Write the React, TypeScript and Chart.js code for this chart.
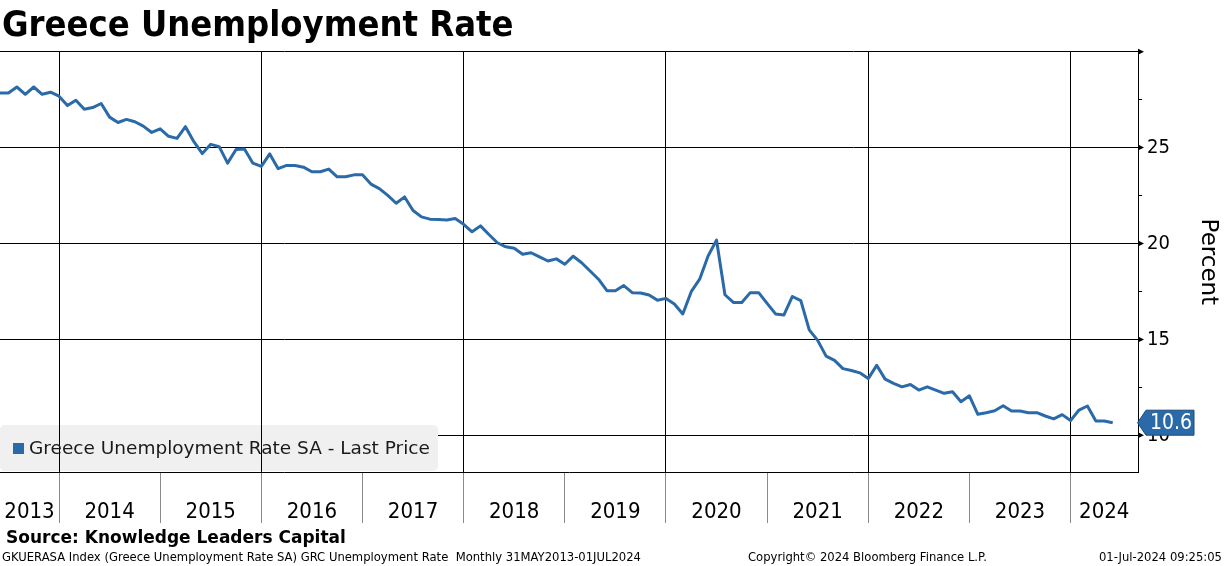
import React, { useEffect, useRef } from "react";
import { Chart, registerables } from "chart.js";

Chart.register(...registerables);

const FONT = "'DejaVu Sans Condensed', 'DejaVu Sans', sans-serif";
const FONT_WIDE = "'DejaVu Sans', sans-serif";
const BLUE = "#2b6aa8";

// Month index: end of Jan 2013 = 1, so end of May 2013 = 5
const START_MONTH = 5;
const X_MIN = 5;
const X_MAX = 140;
const Y_MIN = 8.09;
const Y_MAX = 30;

const rate2013 = [27.85, 27.85, 28.16, 27.78, 28.16, 27.78, 27.89, 27.68]; // May–Dec
const rate2014 = [27.19, 27.47, 27.0, 27.09, 27.3, 26.59, 26.31, 26.47, 26.35, 26.12, 25.79, 25.98];
const rate2015 = [25.59, 25.48, 26.09, 25.31, 24.69, 25.17, 25.05, 24.19, 24.9, 24.93, 24.19, 24.02];
const rate2016 = [24.67, 23.9, 24.07, 24.07, 23.98, 23.74, 23.74, 23.88, 23.48, 23.48, 23.58, 23.58];
const rate2017 = [23.1, 22.86, 22.51, 22.1, 22.43, 21.72, 21.39, 21.27, 21.25, 21.23, 21.3, 21.0];
const rate2018 = [20.61, 20.92, 20.47, 20.04, 19.83, 19.75, 19.44, 19.52, 19.3, 19.09, 19.2, 18.92];
const rate2019 = [19.34, 19.0, 18.57, 18.14, 17.54, 17.54, 17.81, 17.44, 17.42, 17.32, 17.04, 17.14];
const rate2020 = [16.85, 16.33, 17.49, 18.14, 19.35, 20.18, 17.33, 16.93, 16.93, 17.44, 17.44, 16.88];
const rate2021 = [16.33, 16.28, 17.24, 17.02, 15.5, 14.95, 14.13, 13.91, 13.48, 13.38, 13.26, 12.96];
const rate2022 = [13.65, 12.93, 12.71, 12.53, 12.65, 12.36, 12.53, 12.36, 12.19, 12.27, 11.75, 12.06];
const rate2023 = [11.1, 11.18, 11.28, 11.54, 11.27, 11.27, 11.18, 11.18, 11.01, 10.86, 11.08, 10.77];
const rate2024 = [11.32, 11.53, 10.75, 10.75, 10.66]; // Jan–May

const years = [2013, 2014, 2015, 2016, 2017, 2018, 2019, 2020, 2021, 2022, 2023, 2024];
const yearBoundaries = [12, 24, 36, 48, 60, 72, 84, 96, 108, 120, 132];
const yTickValues = [10, 12.5, 15, 17.5, 20, 22.5, 25, 27.5, 30];
const yLabelValues = [10, 15, 20, 25];
const lastValueLabel = "10.6";
const seriesLabel = "Greece Unemployment Rate SA - Last Price";
const axisTitle = "Percent";

const allRates = [
  ...rate2013, ...rate2014, ...rate2015, ...rate2016, ...rate2017, ...rate2018,
  ...rate2019, ...rate2020, ...rate2021, ...rate2022, ...rate2023, ...rate2024,
];

const isMajorBoundary = (v: number) => ((v - 12) / 12) % 2 === 0;

function roundRect(ctx: CanvasRenderingContext2D, x: number, y: number, w: number, h: number, r: number) {
  ctx.beginPath();
  ctx.moveTo(x + r, y);
  ctx.lineTo(x + w - r, y);
  ctx.quadraticCurveTo(x + w, y, x + w, y + r);
  ctx.lineTo(x + w, y + h - r);
  ctx.quadraticCurveTo(x + w, y + h, x + w - r, y + h);
  ctx.lineTo(x + r, y + h);
  ctx.quadraticCurveTo(x, y + h, x, y + h - r);
  ctx.lineTo(x, y + r);
  ctx.quadraticCurveTo(x, y, x + r, y);
  ctx.closePath();
}

const decorPlugin = {
  id: "decor",
  beforeDatasetsDraw(chart: any) {
    const { ctx, chartArea, scales } = chart;
    const xs = scales.x;
    const boxTop = chartArea.bottom - 47;
    const boxH = 46;
    const boxW = 438;
    ctx.save();
    ctx.fillStyle = "#f0f0f0";
    roundRect(ctx, chartArea.left, boxTop, boxW, boxH, 5);
    ctx.fill();
    ctx.strokeStyle = "#000";
    ctx.lineWidth = 1;
    yearBoundaries.forEach((b) => {
      if (!isMajorBoundary(b)) return;
      const px = Math.round(xs.getPixelForValue(b)) + 0.5;
      if (px > chartArea.left + boxW) return;
      ctx.beginPath();
      ctx.moveTo(px, boxTop);
      ctx.lineTo(px, boxTop + boxH);
      ctx.stroke();
    });
    ctx.fillStyle = BLUE;
    ctx.fillRect(chartArea.left + 13, boxTop + 18, 11, 11);
    ctx.fillStyle = "#1a1a1a";
    ctx.font = `18.5px ${FONT_WIDE}`;
    ctx.textBaseline = "middle";
    ctx.textAlign = "left";
    ctx.fillText(seriesLabel, chartArea.left + 29, boxTop + 24);
    ctx.restore();
  },
  afterDraw(chart: any) {
    const { ctx, chartArea, scales } = chart;
    const xs = scales.x;
    const ys = scales.y;
    ctx.save();
    // year labels in the band below the plot
    ctx.fillStyle = "#000";
    ctx.font = `22px ${FONT}`;
    ctx.textAlign = "center";
    ctx.textBaseline = "middle";
    years.forEach((yr, i) => {
      const a = Math.max(X_MIN, i * 12);
      const b = Math.min(X_MAX, (i + 1) * 12);
      const cx = (xs.getPixelForValue(a) + xs.getPixelForValue(b)) / 2;
      ctx.fillText(String(yr), cx, chartArea.bottom + 40);
    });
    // major tick arrows on the right axis
    yTickValues.forEach((v) => {
      if (v % 5 !== 0) return;
      const py = ys.getPixelForValue(v);
      ctx.beginPath();
      ctx.moveTo(chartArea.right, py - 3);
      ctx.lineTo(chartArea.right + 6, py);
      ctx.lineTo(chartArea.right, py + 3);
      ctx.closePath();
      ctx.fill();
    });
    // axis title
    ctx.save();
    ctx.translate(chartArea.right + 70, (chartArea.top + chartArea.bottom) / 2);
    ctx.rotate(Math.PI / 2);
    ctx.font = `23px ${FONT_WIDE}`;
    ctx.textAlign = "center";
    ctx.textBaseline = "middle";
    ctx.fillText(axisTitle, 0, 0);
    ctx.restore();
    // last value tag
    const last = allRates[allRates.length - 1];
    const ty = ys.getPixelForValue(last);
    const tipX = chartArea.right - 0.5;
    const left = chartArea.right + 8;
    const right = chartArea.right + 56;
    const h = 12.5;
    ctx.beginPath();
    ctx.moveTo(tipX, ty);
    ctx.lineTo(left, ty - h);
    ctx.lineTo(right, ty - h);
    ctx.lineTo(right, ty + h);
    ctx.lineTo(left, ty + h);
    ctx.closePath();
    ctx.fillStyle = BLUE;
    ctx.fill();
    ctx.strokeStyle = "#1c4a78";
    ctx.lineWidth = 1;
    ctx.stroke();
    ctx.fillStyle = "#fff";
    ctx.font = `21px ${FONT}`;
    ctx.textAlign = "center";
    ctx.textBaseline = "middle";
    ctx.fillText(lastValueLabel, (left + right) / 2 + 1, ty + 1);
    ctx.restore();
  },
};

export default function App() {
  const canvasRef = useRef<HTMLCanvasElement | null>(null);

  useEffect(() => {
    document.body.style.margin = "0";
    const canvas = canvasRef.current;
    if (!canvas) return;
    const points = allRates.map((v, i) => ({ x: START_MONTH + i, y: v }));
    const chart = new Chart(canvas, {
      type: "line",
      data: {
        datasets: [
          {
            label: seriesLabel,
            data: points,
            borderColor: BLUE,
            backgroundColor: BLUE,
            borderWidth: 3,
            pointRadius: 0,
            tension: 0,
            borderJoinStyle: "round",
          },
        ],
      },
      options: {
        animation: false,
        responsive: false,
        maintainAspectRatio: false,
        devicePixelRatio: 1,
        layout: { padding: { top: 51.7, left: 0, right: 0, bottom: 0 } },
        plugins: {
          legend: { display: false },
          tooltip: { enabled: false },
          title: { display: false },
        },
        scales: {
          x: {
            type: "linear",
            min: X_MIN,
            max: X_MAX,
            afterBuildTicks: (s: any) => {
              s.ticks = yearBoundaries.map((v) => ({ value: v }));
            },
            afterFit: (s: any) => {
              s.height = 94;
            },
            ticks: { display: false },
            grid: {
              color: (c: any) => (c.tick && isMajorBoundary(c.tick.value) ? "#000" : "rgba(0,0,0,0)"),
              tickColor: "#8a8a8a",
              tickLength: 51,
              drawTicks: true,
              lineWidth: 1,
            },
            border: { display: true, color: "#000", width: 1 },
          },
          y: {
            type: "linear",
            position: "right",
            min: Y_MIN,
            max: Y_MAX,
            afterBuildTicks: (s: any) => {
              s.ticks = yTickValues.map((v) => ({ value: v }));
            },
            afterFit: (s: any) => {
              s.width = 86;
            },
            ticks: {
              autoSkip: false,
              padding: 5,
              color: "#000",
              font: { family: FONT, size: 20 },
              callback: (v: any) => (yLabelValues.includes(Number(v)) ? String(v) : ""),
            },
            grid: {
              color: (c: any) => (c.tick && c.tick.value % 5 === 0 ? "#000" : "rgba(0,0,0,0)"),
              tickColor: (c: any) => (c.tick && c.tick.value % 5 === 0 ? "rgba(0,0,0,0)" : "#000"),
              tickLength: 4,
              lineWidth: 1,
            },
            border: { display: true, color: "#000", width: 1 },
          },
        },
      },
      plugins: [decorPlugin],
    });
    return () => chart.destroy();
  }, []);

  return (
    <div style={{ position: "relative", width: 1224, height: 566, overflow: "hidden", background: "#fff", fontFamily: FONT }}>
      <canvas ref={canvasRef} width={1224} height={566} style={{ position: "absolute", left: 0, top: 0, width: 1224, height: 566 }} />
      <div style={{ position: "absolute", left: 2, top: 6.2, fontSize: 36, lineHeight: "36px", fontWeight: "bold", color: "#000", whiteSpace: "nowrap" }}>
        Greece Unemployment Rate
      </div>
      <div style={{ position: "absolute", left: 6, top: 528.6, fontSize: 17, lineHeight: "17px", fontWeight: "bold", color: "#000", whiteSpace: "nowrap", fontFamily: FONT_WIDE }}>
        Source: Knowledge Leaders Capital
      </div>
      <div style={{ position: "absolute", left: 2, top: 551.5, fontSize: 11.6, lineHeight: "11.6px", color: "#000", whiteSpace: "pre", fontFamily: FONT_WIDE }}>
        {"GKUERASA Index (Greece Unemployment Rate SA) GRC Unemployment Rate  Monthly 31MAY2013-01JUL2024"}
      </div>
      <div style={{ position: "absolute", left: 748, top: 551.5, fontSize: 11.6, lineHeight: "11.6px", color: "#000", whiteSpace: "nowrap", fontFamily: FONT_WIDE }}>
        Copyright© 2024 Bloomberg Finance L.P.
      </div>
      <div style={{ position: "absolute", right: 2, top: 551.5, fontSize: 11.6, lineHeight: "11.6px", color: "#000", whiteSpace: "nowrap", fontFamily: FONT_WIDE }}>
        01-Jul-2024 09:25:05
      </div>
    </div>
  );
}
